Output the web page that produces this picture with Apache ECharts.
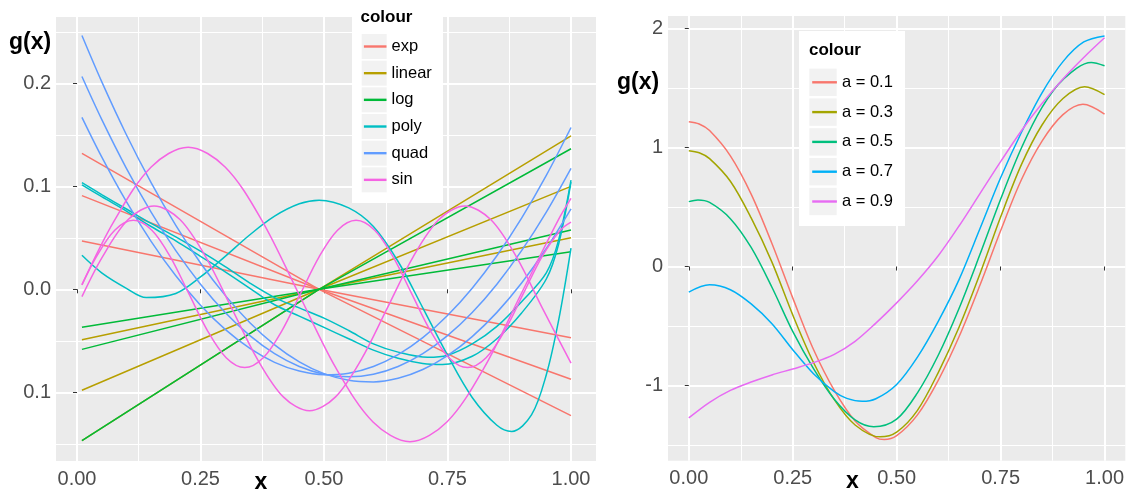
<!DOCTYPE html>
<html>
<head>
<meta charset="utf-8">
<script src="https://cdn.jsdelivr.net/npm/echarts@6/dist/echarts.min.js"></script>
<style>
  html, body { margin: 0; padding: 0; background: #fff; }
  #chart { width: 1127px; height: 492px; }
</style>
</head>
<body>
<div id="chart"></div>
<script>
const FONT = '"Liberation Sans", Arial, Helvetica, sans-serif'

// ---- left panel data ----
const curveX = [0.01, 0.05, 0.1, 0.15, 0.2, 0.25, 0.3, 0.35, 0.4, 0.45, 0.5, 0.55, 0.6, 0.65, 0.7, 0.75, 0.8, 0.85, 0.9, 0.95, 1]
const lineX = [0.01, 0.49, 1]

const expLines = [
  [0.132, 0, -0.1227],
  [0.091, 0, -0.0874],
  [0.047, 0, -0.047],
]
const linearLines = [
  [-0.049, 0, 0.05],
  [-0.098, 0, 0.1],
  [-0.147, 0, 0.149],
]
const logLines = [
  [-0.0369, 0, 0.0365],
  [-0.0583, 0, 0.0576],
  [-0.147, 0, 0.1365],
]
// poly: [x, g(x)] pairs
const polyA = [[0.01, 0.033], [0.05, 0.016], [0.1, 0.001], [0.14, -0.008], [0.2, -0.004], [0.25, 0.012], [0.3, 0.032], [0.35, 0.053], [0.4, 0.071], [0.45, 0.083], [0.49, 0.0865], [0.55, 0.079], [0.6, 0.061], [0.65, 0.027], [0.7, -0.018], [0.75, -0.064], [0.8, -0.105], [0.85, -0.132], [0.88, -0.138], [0.92, -0.122], [0.95, -0.083], [0.975, -0.03], [1, 0.04]]
const polyB = [[0.01, 0.1035], [0.05, 0.092], [0.1, 0.078], [0.15, 0.064], [0.2, 0.051], [0.25, 0.037], [0.3, 0.022], [0.35, 0.006], [0.4, -0.008], [0.45, -0.018], [0.5, -0.028], [0.55, -0.04], [0.6, -0.053], [0.65, -0.061], [0.71, -0.066], [0.75, -0.064], [0.8, -0.053], [0.85, -0.036], [0.9, -0.012], [0.95, 0.016], [0.975, 0.048], [1, 0.106]]
const polyC = [[0.01, 0.1015], [0.05, 0.09], [0.1, 0.076], [0.15, 0.061], [0.2, 0.047], [0.25, 0.032], [0.3, 0.017], [0.35, 0.001], [0.4, -0.015], [0.45, -0.026], [0.5, -0.037], [0.55, -0.048], [0.6, -0.059], [0.65, -0.067], [0.7, -0.072], [0.74, -0.073], [0.8, -0.065], [0.85, -0.048], [0.9, -0.023], [0.95, 0.01], [0.975, 0.044], [1, 0.104]]
const quadCurves = [
  [0.2464, 0.2016, 0.1501, 0.1036, 0.0621, 0.0256, -0.0059, -0.0324, -0.0539, -0.0704, -0.0819, -0.0884, -0.0899, -0.0864, -0.0779, -0.0644, -0.0459, -0.0224, 0.0061, 0.0396, 0.0781],
  [0.2066, 0.165, 0.1175, 0.075, 0.0375, 0.005, -0.0225, -0.045, -0.0625, -0.075, -0.0825, -0.085, -0.0825, -0.075, -0.0625, -0.045, -0.0225, 0.005, 0.0375, 0.075, 0.1175],
  [0.167, 0.1286, 0.0851, 0.0466, 0.0131, -0.0154, -0.0389, -0.0574, -0.0709, -0.0794, -0.0829, -0.0814, -0.0749, -0.0634, -0.0469, -0.0254, 0.0011, 0.0326, 0.0691, 0.1106, 0.1571],
]
// sin: [x, g(x)] pairs
const sinA = [[0.01, 0.0045], [0.0753, 0.0665], [0.1502, 0.1188], [0.225, 0.138], [0.2998, 0.1188], [0.3747, 0.0665], [0.4495, -0.005], [0.5243, -0.0765], [0.5992, -0.1288], [0.674, -0.148], [0.7488, -0.1288], [0.8237, -0.0765], [0.8985, -0.005], [0.9733, 0.0665], [1, 0.0882]]
const sinB = [[0.01, -0.0071], [0.0512, 0.0313], [0.1036, 0.0677], [0.156, 0.081], [0.2084, 0.0677], [0.2608, 0.0313], [0.3133, -0.0185], [0.3657, -0.0683], [0.4181, -0.1047], [0.4705, -0.118], [0.5229, -0.1047], [0.5753, -0.0683], [0.6278, -0.0185], [0.6802, 0.0313], [0.7326, 0.0677], [0.785, 0.081], [0.8374, 0.0677], [0.8898, 0.0313], [0.9423, -0.0185], [1, -0.0716]]
const sinC = [[0.01, 0.0042], [0.0388, 0.0313], [0.0764, 0.0574], [0.114, 0.067], [0.1516, 0.0574], [0.1892, 0.0313], [0.2267, -0.0045], [0.2643, -0.0403], [0.3019, -0.0664], [0.3395, -0.076], [0.3771, -0.0664], [0.4147, -0.0403], [0.4522, -0.0045], [0.4898, 0.0313], [0.5274, 0.0574], [0.565, 0.067], [0.6026, 0.0574], [0.6402, 0.0313], [0.6777, -0.0045], [0.7153, -0.0403], [0.7529, -0.0664], [0.7905, -0.076], [0.8281, -0.0664], [0.8657, -0.0403], [0.9032, -0.0045], [0.9408, 0.0313], [0.9784, 0.0574], [1, 0.0652]]

const leftXTicks = [0, 0.25, 0.5, 0.75, 1]
const leftXMinor = [0.125, 0.375, 0.625, 0.875]
const leftYTicks = [-0.1, 0, 0.1, 0.2]
const leftYTickLabels = ['0.1', '0.0', '0.1', '0.2']
const leftYMinor = [-0.15, -0.05, 0.05, 0.15, 0.25]

// ---- right panel data: [x, g(x)] pairs ----
const a01 = [[0, 1.215], [0.025, 1.196], [0.05, 1.141], [0.1, 0.929], [0.15, 0.608], [0.2, 0.193], [0.25, -0.263], [0.3, -0.697], [0.35, -1.04], [0.4, -1.297], [0.45, -1.436], [0.47, -1.453], [0.5, -1.42], [0.55, -1.245], [0.6, -0.955], [0.65, -0.59], [0.7, -0.16], [0.75, 0.3], [0.8, 0.728], [0.85, 1.055], [0.9, 1.275], [0.948, 1.362], [1, 1.28]]
const a03 = [[0, 0.972], [0.025, 0.955], [0.05, 0.906], [0.1, 0.716], [0.15, 0.408], [0.2, 0.037], [0.25, -0.406], [0.3, -0.806], [0.35, -1.118], [0.4, -1.33], [0.46, -1.43], [0.5, -1.39], [0.55, -1.207], [0.6, -0.89], [0.65, -0.51], [0.7, -0.065], [0.75, 0.415], [0.8, 0.855], [0.85, 1.19], [0.9, 1.41], [0.952, 1.509], [1, 1.443]]
const a05 = [[0, 0.545], [0.022, 0.559], [0.05, 0.538], [0.1, 0.402], [0.15, 0.16], [0.2, -0.174], [0.25, -0.545], [0.3, -0.857], [0.35, -1.114], [0.4, -1.287], [0.445, -1.345], [0.5, -1.281], [0.55, -1.06], [0.6, -0.745], [0.65, -0.352], [0.7, 0.098], [0.75, 0.565], [0.8, 0.995], [0.85, 1.338], [0.9, 1.569], [0.968, 1.713], [1, 1.685]]
const a07 = [[0, -0.215], [0.05, -0.154], [0.1, -0.195], [0.15, -0.314], [0.2, -0.48], [0.25, -0.698], [0.3, -0.9], [0.35, -1.05], [0.38, -1.107], [0.417, -1.132], [0.45, -1.11], [0.5, -0.99], [0.55, -0.76], [0.6, -0.46], [0.65, -0.11], [0.7, 0.315], [0.75, 0.745], [0.8, 1.125], [0.85, 1.46], [0.9, 1.72], [0.95, 1.885], [1, 1.936]]
const a09 = [[0, -1.271], [0.05, -1.14], [0.1, -1.04], [0.15, -0.97], [0.2, -0.91], [0.25, -0.86], [0.3, -0.807], [0.35, -0.737], [0.4, -0.628], [0.45, -0.475], [0.5, -0.305], [0.55, -0.12], [0.6, 0.09], [0.65, 0.34], [0.7, 0.61], [0.75, 0.88], [0.8, 1.14], [0.85, 1.37], [0.9, 1.575], [0.95, 1.755], [1, 1.92]]

const rightNames = ['a = 0.1', 'a = 0.3', 'a = 0.5', 'a = 0.7', 'a = 0.9']
const rightValues = [a01, a03, a05, a07, a09]
const rightColors = ['#F8766D', '#A3A500', '#00BF7D', '#00B0F6', '#E76BF3']

const rightXTicks = [0, 0.25, 0.5, 0.75, 1]
const rightXMinor = [0.125, 0.375, 0.625, 0.875]
const rightYTicks = [-1, 0, 1, 2]
const rightYMinor = [-1.5, -0.5, 0.5, 1.5]

const zipXY = (xs, ys) => xs.map((x, i) => [x, ys[i]])
const SMOOTH = 0.33

const families = [
  { name: 'exp', color: '#F8766D', curves: expLines.map(r => zipXY(lineX, r)), smooth: false },
  { name: 'linear', color: '#B79F00', curves: linearLines.map(r => zipXY(lineX, r)), smooth: false },
  { name: 'log', color: '#00BA38', curves: logLines.map(r => zipXY(lineX, r)), smooth: false },
  { name: 'poly', color: '#00BFC4', curves: [polyA, polyB, polyC], smooth: SMOOTH },
  { name: 'quad', color: '#619CFF', curves: quadCurves.map(r => zipXY(curveX, r)), smooth: SMOOTH },
  { name: 'sin', color: '#F564E3', curves: [sinA, sinB, sinC], smooth: SMOOTH },
]

function lineSeries(name, color, data, axis, smooth) {
  return {
    name: name,
    type: 'line',
    xAxisIndex: axis,
    yAxisIndex: axis,
    data: data,
    symbol: 'none',
    smooth: smooth,
    silent: true,
    lineStyle: { color: color, width: 1.5 },
    itemStyle: { color: color },
  }
}

const series = []
families.forEach(f => {
  f.curves.forEach(d => series.push(lineSeries(f.name, f.color, d, 0, f.smooth)))
})
rightValues.forEach((d, i) => {
  series.push(lineSeries(rightNames[i], rightColors[i], d, 2, SMOOTH))
})

const labelStyle = { color: '#4D4D4D', fontSize: 20, fontFamily: FONT }
const tickStyle = { show: true, length: 4, lineStyle: { color: '#333333', width: 1 } }

function mainAxis(grid, min, max, ticks, formatter, margin) {
  return {
    type: 'value', gridIndex: grid, min: min, max: max,
    axisLine: { show: false },
    axisTick: Object.assign({ customValues: ticks }, tickStyle),
    axisLabel: Object.assign({ customValues: ticks, formatter: formatter, margin: margin }, labelStyle),
    splitLine: { show: true, lineStyle: { color: '#FFFFFF', width: 2 } },
  }
}
function minorAxis(grid, min, max, ticks) {
  return {
    type: 'value', gridIndex: grid, min: min, max: max,
    axisLine: { show: false },
    axisTick: { show: false, customValues: ticks },
    axisLabel: { show: false },
    splitLine: { show: true, lineStyle: { color: '#FFFFFF', width: 1 } },
  }
}

const leftYFormat = v => {
  const k = leftYTicks.findIndex(t => Math.abs(t - v) < 1e-6)
  return k >= 0 ? leftYTickLabels[k] : ''
}

const graphicText = (text, x, y, font, align) => ({
  type: 'text', x: x, y: y, z: 30,
  style: { text: text, font: font, fill: '#000', align: align || 'left', verticalAlign: 'middle' },
})
const keyRect = (x, y, w, h) => ({
  type: 'rect', z: 25, shape: { x: x, y: y, width: w, height: h }, style: { fill: '#F2F2F2' },
})

// legend key layout
const leftKey = { x: 361.7, top: 34, size: 25, step: 26.67 }
const rightKey = { x: 809.3, top: 68.6, size: 27.4, step: 29.8 }

const graphic = [
  { type: 'rect', z: 24, shape: { x: 352, y: 0, width: 91, height: 203 }, style: { fill: '#FFFFFF' } },
  { type: 'rect', z: 24, shape: { x: 799, y: 31, width: 106, height: 195 }, style: { fill: '#FFFFFF' } },
  graphicText('colour', 360.5, 17, 'bold 17px ' + FONT),
  graphicText('colour', 809, 50, 'bold 17px ' + FONT),
  graphicText('g(x)', 9, 43, 'bold 23px ' + FONT),
  graphicText('g(x)', 617, 83, 'bold 23px ' + FONT),
  graphicText('x', 261, 483, 'bold 23px ' + FONT, 'center'),
  graphicText('x', 852.5, 482, 'bold 23px ' + FONT, 'center'),
]
families.forEach((f, i) => graphic.push(keyRect(leftKey.x, leftKey.top + i * leftKey.step, leftKey.size, leftKey.size)))
rightNames.forEach((n, i) => graphic.push(keyRect(rightKey.x, rightKey.top + i * rightKey.step, rightKey.size, rightKey.size)))

// legend rows: ECharts sizes each row by the (hidden) symbol, 0.8 * itemHeight
const legendBase = {
  z: 40, orient: 'vertical', padding: 0, selectedMode: false,
  lineStyle: { width: 2.4 },
  itemStyle: { opacity: 0 },
  textStyle: { color: '#000', fontSize: 16.5, fontFamily: FONT },
}

const option = {
  animation: false,
  backgroundColor: '#FFFFFF',
  grid: [
    { left: 56, top: 17, width: 540, height: 444, show: true, backgroundColor: '#EBEBEB', borderWidth: 0 },
    { left: 668, top: 16, width: 459, height: 444.7, show: true, backgroundColor: '#EBEBEB', borderWidth: 0 },
  ],
  xAxis: [
    mainAxis(0, -0.0425, 1.0506, leftXTicks, v => v.toFixed(2), 8),
    minorAxis(0, -0.0425, 1.0506, leftXMinor),
    mainAxis(1, -0.05, 1.05, rightXTicks, v => v.toFixed(2), 8),
    minorAxis(1, -0.05, 1.05, rightXMinor),
  ],
  yAxis: [
    mainAxis(0, -0.1667, 0.2644, leftYTicks, leftYFormat, 5),
    minorAxis(0, -0.1667, 0.2644, leftYMinor),
    mainAxis(1, -1.63, 2.103, rightYTicks, v => String(v), 5),
    minorAxis(1, -1.63, 2.103, rightYMinor),
  ],
  legend: [
    Object.assign({}, legendBase, {
      left: 362.7, top: leftKey.top + leftKey.size * 0.1,
      itemWidth: 22.6, itemHeight: leftKey.size, itemGap: leftKey.step - leftKey.size * 0.8, itemTextGap: 10.4,
      data: families.map(f => f.name),
    }),
    Object.assign({}, legendBase, {
      left: 811, top: rightKey.top + rightKey.size * 0.1,
      itemWidth: 24.7, itemHeight: rightKey.size, itemGap: rightKey.step - rightKey.size * 0.8, itemTextGap: 8.6,
      data: rightNames,
    }),
  ],
  graphic: graphic,
  series: series,
}

const chart = echarts.init(document.getElementById('chart'), null, { renderer: 'canvas' })
chart.setOption(option)
</script>
</body>
</html>
